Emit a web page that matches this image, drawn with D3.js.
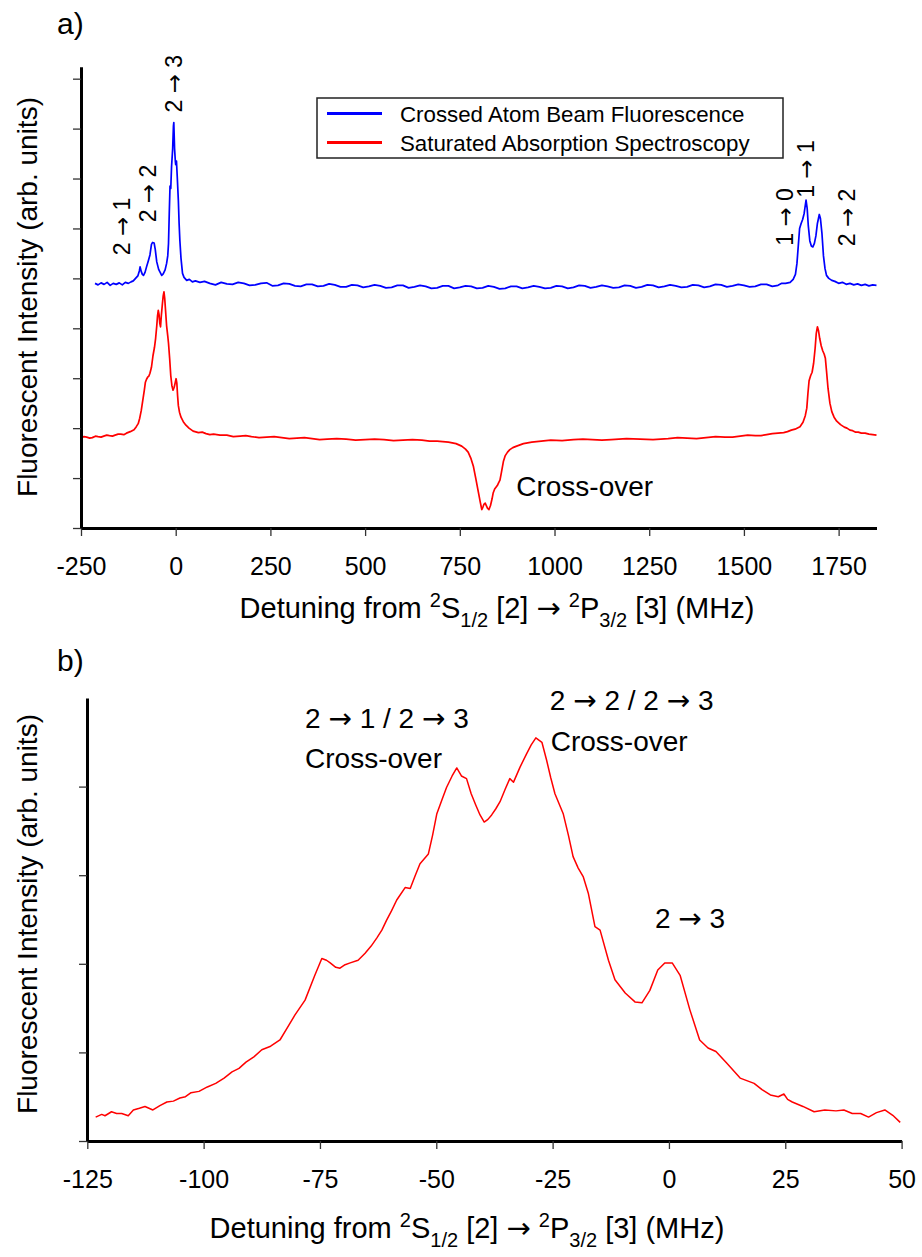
<!DOCTYPE html>
<html>
<head>
<meta charset="utf-8">
<script src="https://cdn.jsdelivr.net/npm/d3@7"></script>
<style>
  body { margin: 0; background: #fff; }
  svg { display: block; font-family: "Liberation Sans", Arial, Helvetica, sans-serif; }
</style>
</head>
<body>
<svg id="chart" width="922" height="1257"></svg>
<script>
// panel a: crossed atom beam fluorescence (blue), [MHz, arb. units]
const blueTrace = [
  [-213,4.90],[-205,4.87],[-197,4.91],[-189,4.88],[-181,4.92],[-173,4.86],[-165,4.90],[-157,4.88],
  [-149,4.91],[-141,4.87],[-133,4.92],[-125,4.90],[-118,4.93],[-112,4.95],[-106,5.00],[-100,5.05],
  [-96,5.15],[-94,5.23],[-91,5.14],[-88,5.08],[-85,5.06],[-81,5.12],[-77,5.23],[-72,5.36],[-68,5.47],
  [-64,5.68],[-61,5.72],[-57,5.71],[-54,5.58],[-50,5.33],[-45,5.18],[-41,5.12],[-37,5.06],[-33,5.09],
  [-28,5.17],[-24,5.30],[-21,5.45],[-19,5.70],[-17,6.30],[-15,6.85],[-13,6.80],[-11,7.23],[-8,7.60],
  [-6,8.05],[-5,8.12],[-3,7.60],[-1,7.35],[0,7.28],[2,7.35],[4,7.05],[7,6.56],[9,6.10],[11,5.76],
  [14,5.40],[18,5.10],[22,5.02],[29,4.96],[36,4.98],[44,4.93],[52,4.95],[64,4.92],[76,4.94],
  [90,4.90],[105,4.87],[120,4.92],[135,4.89],[150,4.88],[165,4.92],[180,4.90],[195,4.86],[210,4.87],
  [225,4.90],[240,4.91],[255,4.85],[270,4.86],[285,4.90],[300,4.89],[315,4.85],[330,4.84],[345,4.88],
  [360,4.88],[375,4.84],[390,4.85],[405,4.89],[420,4.87],[435,4.83],[450,4.83],[465,4.87],[480,4.86],
  [495,4.82],[510,4.84],[525,4.87],[540,4.85],[555,4.81],[570,4.82],[585,4.86],[600,4.86],[615,4.81],
  [630,4.83],[645,4.86],[660,4.84],[675,4.80],[690,4.81],[705,4.85],[720,4.85],[735,4.80],[750,4.82],
  [765,4.85],[780,4.84],[795,4.80],[810,4.81],[825,4.85],[840,4.83],[855,4.79],[870,4.80],[885,4.84],
  [900,4.84],[915,4.80],[930,4.82],[945,4.85],[960,4.83],[975,4.80],[990,4.81],[1005,4.85],
  [1020,4.84],[1035,4.80],[1050,4.82],[1065,4.86],[1080,4.85],[1095,4.81],[1110,4.83],[1125,4.86],
  [1140,4.84],[1155,4.81],[1170,4.82],[1185,4.86],[1200,4.85],[1215,4.81],[1230,4.83],[1245,4.87],
  [1260,4.86],[1275,4.82],[1290,4.84],[1305,4.87],[1320,4.85],[1335,4.82],[1350,4.83],[1365,4.87],
  [1380,4.86],[1395,4.82],[1410,4.84],[1425,4.88],[1440,4.87],[1455,4.83],[1470,4.85],[1485,4.88],
  [1500,4.86],[1515,4.83],[1530,4.84],[1545,4.88],[1560,4.88],[1575,4.84],[1590,4.86],[1600,4.90],
  [1610,4.90],[1622,4.92],[1630,4.98],[1636,5.08],[1640,5.30],[1644,5.70],[1647,6.00],[1651,6.10],
  [1655,6.18],[1659,6.30],[1664,6.57],[1667,6.40],[1670,6.05],[1674,5.75],[1678,5.65],[1682,5.63],
  [1686,5.70],[1690,5.85],[1694,6.10],[1699,6.28],[1702,6.20],[1706,5.90],[1710,5.45],[1714,5.20],
  [1718,5.06],[1724,5.00],[1732,4.96],[1740,4.94],[1750,4.90],[1760,4.92],[1770,4.88],[1780,4.90],
  [1790,4.87],[1800,4.89],[1810,4.86],[1820,4.88],[1830,4.85],[1840,4.87],[1850,4.86]
];

// panel a: saturated absorption spectroscopy (red)
const redTrace = [
  [-250,1.81],[-242,1.83],[-235,1.82],[-227,1.80],[-220,1.81],[-212,1.84],[-205,1.83],[-197,1.82],
  [-190,1.84],[-182,1.86],[-175,1.85],[-167,1.84],[-160,1.86],[-152,1.88],[-145,1.88],[-137,1.87],
  [-130,1.90],[-120,1.93],[-110,1.97],[-104,2.03],[-99,2.09],[-95,2.20],[-91,2.35],[-87,2.55],
  [-83,2.75],[-80,2.92],[-77,2.98],[-74,3.02],[-71,3.04],[-68,3.10],[-64,3.22],[-60,3.45],[-56,3.62],
  [-53,3.80],[-50,4.05],[-48,4.25],[-46,4.36],[-44,4.28],[-42,4.10],[-40,4.03],[-38,4.25],[-35,4.50],
  [-33,4.65],[-31,4.73],[-29,4.60],[-27,4.38],[-24,4.05],[-21,3.85],[-19,3.70],[-16,3.40],[-13,3.05],
  [-10,2.85],[-7,2.76],[-4,2.82],[-1,2.92],[1,2.99],[3,2.90],[5,2.65],[7,2.45],[10,2.32],[14,2.22],
  [20,2.13],[27,2.06],[35,2.00],[46,1.94],[60,1.91],[70,1.92],[80,1.89],[90,1.87],[100,1.88],
  [117,1.86],[135,1.86],[152,1.83],[170,1.84],[185,1.85],[200,1.83],[220,1.81],[240,1.82],[260,1.83],
  [280,1.81],[300,1.79],[320,1.80],[340,1.81],[360,1.79],[380,1.77],[400,1.78],[425,1.79],[450,1.78],
  [475,1.76],[500,1.77],[525,1.78],[550,1.77],[575,1.75],[600,1.76],[625,1.77],[650,1.76],[670,1.74],
  [690,1.74],[705,1.73],[720,1.72],[740,1.69],[755,1.64],[765,1.58],[772,1.52],[779,1.40],
  [786,1.23],[792,1.00],[799,0.72],[804,0.52],[808,0.37],[811,0.42],[814,0.48],[817,0.50],[820,0.45],
  [823,0.40],[827,0.37],[831,0.45],[835,0.58],[838,0.70],[842,0.78],[846,0.82],[849,0.85],[852,0.90],
  [856,0.96],[860,1.12],[865,1.33],[870,1.45],[876,1.52],[882,1.57],[890,1.61],[900,1.64],[918,1.69],
  [940,1.72],[965,1.74],[990,1.76],[1020,1.75],[1050,1.77],[1075,1.78],[1100,1.77],[1125,1.76],
  [1150,1.77],[1190,1.79],[1226,1.78],[1260,1.77],[1300,1.79],[1325,1.81],[1350,1.80],[1375,1.79],
  [1400,1.81],[1425,1.83],[1450,1.82],[1470,1.82],[1490,1.84],[1510,1.86],[1530,1.85],[1545,1.85],
  [1560,1.87],[1575,1.89],[1590,1.90],[1605,1.91],[1615,1.93],[1625,1.96],
  [1635,1.98],[1648,2.03],[1656,2.12],[1662,2.25],[1666,2.40],[1669,2.70],[1672,2.95],[1676,3.05],
  [1680,3.12],[1684,3.30],[1688,3.60],[1691,3.90],[1694,4.03],[1697,3.95],[1700,3.80],[1704,3.65],
  [1708,3.55],[1712,3.48],[1715,3.40],[1718,3.15],[1722,2.80],[1727,2.50],[1732,2.33],[1738,2.22],
  [1745,2.14],[1755,2.07],[1765,2.02],[1772,2.00],[1780,1.96],[1787,1.95],[1795,1.92],[1802,1.92],
  [1810,1.90],[1820,1.90],[1830,1.88],[1840,1.87],[1850,1.86]
];

// panel b: zoom on the 2 -> x saturated absorption group
const zoomTrace = [
  [-123.2,0.27],[-121.9,0.30],[-121.2,0.285],[-119.8,0.33],[-118.7,0.31],[-117.6,0.31],[-116.2,0.285],
  [-115.1,0.35],[-113.8,0.37],[-112.6,0.39],[-110.9,0.35],[-109.4,0.40],[-107.9,0.44],[-106.5,0.45],
  [-105.1,0.485],[-103.9,0.50],[-102.7,0.545],[-101.0,0.56],[-99.2,0.61],[-97.4,0.65],[-95.6,0.71],
  [-93.9,0.78],[-92.4,0.82],[-90.9,0.89],[-89.2,0.95],[-87.5,1.03],[-85.6,1.07],[-83.6,1.14],
  [-82.0,1.28],[-80.4,1.42],[-78.2,1.59],[-76.1,1.87],[-74.6,2.06],[-73.6,2.04],[-72.8,2.01],
  [-71.6,1.96],[-70.7,1.95],[-69.6,1.99],[-68.5,2.01],[-66.8,2.04],[-65.3,2.12],[-64.0,2.20],
  [-62.8,2.29],[-61.7,2.38],[-60.7,2.49],[-59.6,2.60],[-58.5,2.72],[-56.7,2.86],[-55.6,2.85],
  [-54.5,3.00],[-53.5,3.13],[-51.7,3.24],[-50.8,3.45],[-49.9,3.69],[-48.8,3.85],[-47.8,3.99],
  [-46.6,4.12],[-45.6,4.21],[-44.6,4.12],[-43.5,4.09],[-42.5,3.92],[-41.5,3.79],[-40.6,3.68],
  [-39.7,3.60],[-38.9,3.63],[-38.1,3.68],[-37.2,3.75],[-36.3,3.83],[-35.2,3.97],[-34.2,4.09],
  [-33.4,4.05],[-32.0,4.22],[-30.6,4.37],[-29.6,4.47],[-28.6,4.55],[-27.3,4.50],[-26.3,4.30],
  [-25.4,4.10],[-24.5,3.92],[-22.7,3.69],[-21.6,3.45],[-20.6,3.21],[-19.5,3.08],[-18.4,2.98],
  [-17.3,2.79],[-15.9,2.42],[-14.8,2.38],[-13.0,2.04],[-11.6,1.82],[-9.4,1.67],[-7.3,1.57],
  [-5.8,1.56],[-4.1,1.70],[-2.4,1.93],[-0.9,2.01],[0.7,2.01],[2.4,1.87],[4.5,1.48],[6.6,1.14],
  [8.4,1.05],[10.1,1.01],[12.4,0.88],[15.3,0.71],[18.3,0.65],[20.0,0.58],[21.8,0.52],[23.5,0.50],
  [24.7,0.53],[25.5,0.47],[26.5,0.44],[28.8,0.39],[31.2,0.33],[33.5,0.35],[35.9,0.34],[37.6,0.35],
  [39.4,0.31],[41.2,0.31],[42.9,0.27],[44.6,0.32],[46.4,0.35],[48.1,0.29],[49.7,0.21]
];

const ticksA = [-250, 0, 250, 500, 750, 1000, 1250, 1500, 1750];
const ticksB = [-125, -100, -75, -50, -25, 0, 25, 50];
const legendNames = ["Crossed Atom Beam Fluorescence", "Saturated Absorption Spectroscopy"];
const legendColors = ["#0000ff", "#ff0000"];

// transition labels: text, MHz, arb. units
const labelsA = [
  ["2 \u2192 1", -142, 6.04], ["2 \u2192 2", -72, 6.70], ["2 \u2192 3", -4.5, 8.90],
  ["1 \u2192 0", 1608, 6.23], ["1 \u2192 1", 1665, 7.19], ["2 \u2192 2", 1771, 6.22]
];
const labelsB = [
  ["2 \u2192 1 / 2 \u2192 3", -78.2, 4.66], ["Cross-over", -78.2, 4.21],
  ["2 \u2192 2 / 2 \u2192 3", -25.6, 4.86], ["Cross-over", -25.4, 4.40],
  ["2 \u2192 3", -3, 2.40]
];

const svg = d3.select("#chart");
const font = "\"Liberation Sans\", Arial, Helvetica, sans-serif";
const arrowFont = "\"DejaVu Sans\", sans-serif";

// write a string into a text element, arrows set in a font with a long arrow
function fillText(t, str) {
  str.split("\u2192").forEach((part, i) => {
    if (i > 0) t.append("tspan").attr("font-family", arrowFont).text("\u2192");
    t.append("tspan").text(part);
  });
  return t;
}

function styleAxis(g) {
  g.select(".domain").attr("stroke", "#000").attr("stroke-width", 3);
  g.selectAll(".tick line").attr("stroke", "#333").attr("stroke-width", 1.3);
  g.selectAll(".tick text").attr("fill", "#000").attr("font-size", 25).attr("font-family", font);
}

function xTitle(x, y) {
  const t = svg.append("text")
    .attr("x", x).attr("y", y)
    .attr("text-anchor", "middle")
    .attr("font-size", 29);
  t.append("tspan").text("Detuning from ");
  t.append("tspan").attr("font-size", 20).attr("dy", -11).text("2");
  t.append("tspan").attr("dy", 11).text("S");
  t.append("tspan").attr("font-size", 20).attr("dy", 9).text("1/2");
  t.append("tspan").attr("dy", -9).text(" [2] ");
  t.append("tspan").attr("font-family", arrowFont).text("\u2192");
  t.append("tspan").text(" ");
  t.append("tspan").attr("font-size", 20).attr("dy", -11).text("2");
  t.append("tspan").attr("dy", 11).text("P");
  t.append("tspan").attr("font-size", 20).attr("dy", 9).text("3/2");
  t.append("tspan").attr("dy", -9).text(" [3] (MHz)");
}

function yTitle(x, y) {
  svg.append("text")
    .attr("transform", `translate(${x},${y}) rotate(-90)`)
    .attr("text-anchor", "middle")
    .attr("font-size", 28)
    .text("Fluorescent Intensity (arb. units)");
}

const line = (xs, ys) => d3.line().x(d => xs(d[0])).y(d => ys(d[1]));
const plain = d => String(d);

// ---------- panel a ----------
const xa = d3.scaleLinear().domain([-250, 1850]).range([81, 876.5]);
const ya = d3.scaleLinear().domain([0, 9.24]).range([528, 66.7]);

svg.append("text").attr("x", 57).attr("y", 34).attr("font-size", 30).text("a)");

svg.append("path").datum(redTrace)
  .attr("fill", "none").attr("stroke", "#ff0000").attr("stroke-width", 1.7)
  .attr("stroke-linejoin", "round")
  .attr("d", line(xa, ya));
svg.append("path").datum(blueTrace)
  .attr("fill", "none").attr("stroke", "#0000ff").attr("stroke-width", 1.7)
  .attr("stroke-linejoin", "round")
  .attr("d", line(xa, ya));

svg.append("g").attr("transform", "translate(0,528)")
  .call(d3.axisBottom(xa).tickValues(ticksA).tickSize(8).tickSizeOuter(0).tickPadding(21).tickFormat(plain))
  .call(styleAxis);
svg.append("g").attr("transform", "translate(81,0)")
  .call(d3.axisLeft(ya).tickValues(d3.range(0, 10)).tickSize(8).tickSizeOuter(0).tickFormat(""))
  .call(styleAxis);

labelsA.forEach(([s, mx, v]) => {
  const t = svg.append("text")
    .attr("transform", `translate(${xa(mx)},${ya(v)}) rotate(-90)`)
    .attr("text-anchor", "middle")
    .attr("dominant-baseline", "central")
    .attr("font-size", 23);
  fillText(t, s);
});
svg.append("text").attr("x", xa(899)).attr("y", ya(0.64)).attr("font-size", 28).text("Cross-over");

// legend
const lg = svg.append("g");
lg.append("rect").attr("x", 317).attr("y", 98).attr("width", 466).attr("height", 60)
  .attr("fill", "#fff").attr("stroke", "#222").attr("stroke-width", 1.5);
legendNames.forEach((name, i) => {
  const yy = 113.5 + i * 29;
  lg.append("line").attr("x1", 327).attr("x2", 382).attr("y1", yy).attr("y2", yy)
    .attr("stroke", legendColors[i]).attr("stroke-width", 3);
  lg.append("text").attr("x", 400).attr("y", yy + 8).attr("font-size", 22.3).text(name);
});

xTitle(497, 618);
yTitle(37, 297);

// ---------- panel b ----------
const xb = d3.scaleLinear().domain([-125, 50]).range([87.3, 901.6]);
const yb = d3.scaleLinear().domain([0, 5]).range([1141, 698]);

svg.append("text").attr("x", 57).attr("y", 671).attr("font-size", 30).text("b)");

svg.append("path").datum(zoomTrace)
  .attr("fill", "none").attr("stroke", "#ff0000").attr("stroke-width", 1.5)
  .attr("stroke-linejoin", "round")
  .attr("d", line(xb, yb));

svg.append("g").attr("transform", "translate(0,1141)")
  .call(d3.axisBottom(xb).tickValues(ticksB).tickSize(8).tickSizeOuter(0).tickPadding(21).tickFormat(plain))
  .call(styleAxis);
svg.append("g").attr("transform", "translate(87,0)")
  .call(d3.axisLeft(yb).tickValues(d3.range(0, 5)).tickSize(8).tickSizeOuter(0).tickFormat(""))
  .call(styleAxis);

labelsB.forEach(([s, mx, v]) => {
  const t = svg.append("text").attr("x", xb(mx)).attr("y", yb(v)).attr("font-size", 28);
  fillText(t, s);
});

xTitle(467, 1238);
yTitle(37, 914);
</script>
</body>
</html>
